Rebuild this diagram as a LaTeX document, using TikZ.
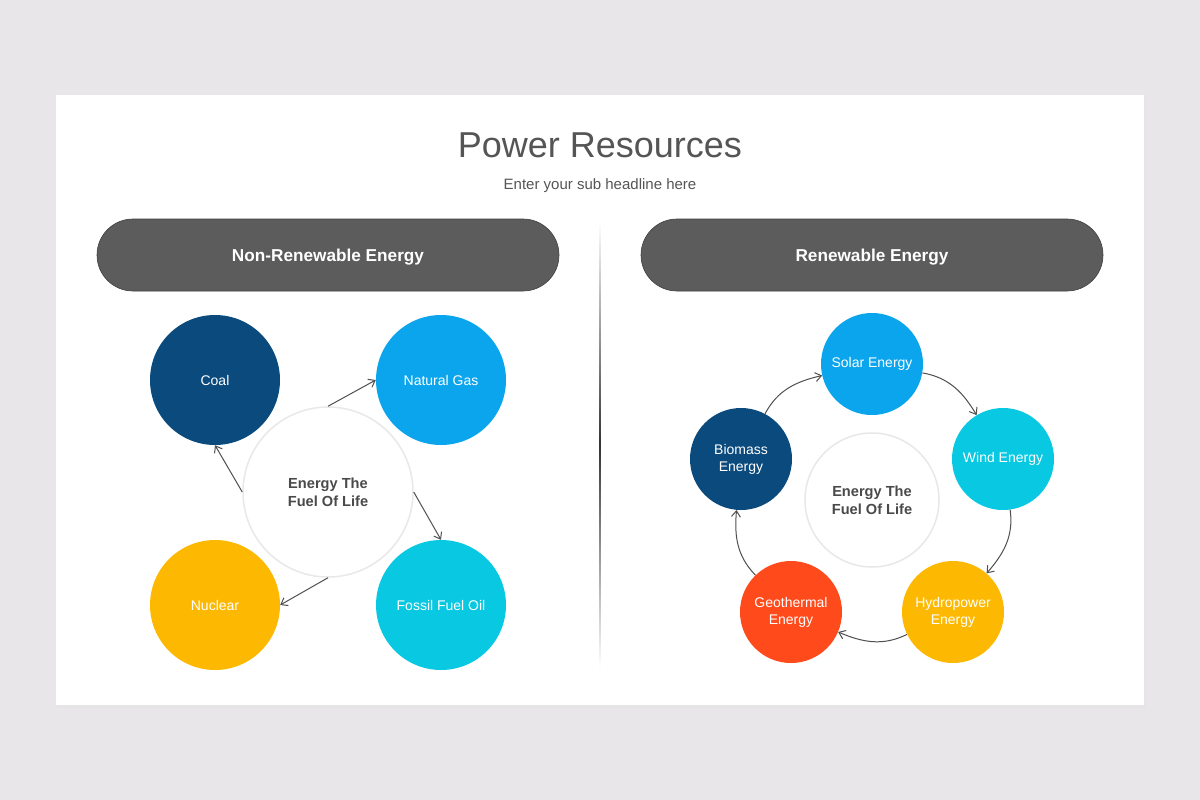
\documentclass[tikz,border=0pt]{standalone}
\usepackage{fontspec}
\setmainfont{Liberation Sans}
\usetikzlibrary{arrows.meta}
\definecolor{bgc}{HTML}{E8E6E8}
\definecolor{pill}{HTML}{5C5C5C}
\definecolor{titlec}{HTML}{555555}
\definecolor{ctext}{HTML}{4A4A4A}
\definecolor{navy}{HTML}{0B4A7C}
\definecolor{sky}{HTML}{0BA5EE}
\definecolor{cyan2}{HTML}{08C8E2}
\definecolor{amber}{HTML}{FDB902}
\definecolor{redor}{HTML}{FF4A1C}
\definecolor{arr}{HTML}{4F4F4F}
\tikzset{
  bubble/.style={circle, inner sep=0pt, text=white, align=center, font=\fontsize{14}{17}\selectfont},
  hub/.style={circle, inner sep=0pt, fill=white, draw=black!9, line width=1.5pt, text=ctext, align=center, font=\bfseries\fontsize{14.6}{18}\selectfont},
  pillbox/.style={rounded corners=36pt, fill=pill, draw=black!75, line width=0.6pt, minimum width=462pt, minimum height=72pt},
  pilltext/.style={text=white, font=\bfseries\fontsize{17.2}{21}\selectfont},
  link/.style={draw=arr, line width=1pt, -{Straight Barb[length=6pt,width=9pt]}},
}
\begin{document}
\begin{tikzpicture}[x=1pt,y=1pt]
\useasboundingbox (0,0) rectangle (1200,-800);
\fill[bgc] (0,0) rectangle (1200,-800);
% card shadow and card
\fill[black!10] (57,-97) rectangle (1146,-708);
\fill[white] (56,-95) rectangle (1144,-705);
% titles
\node[text=titlec, font=\fontsize{36}{43}\selectfont] (title) at (600,-145) {Power Resources};
\node[text=titlec, font=\fontsize{15}{18}\selectfont] (sub) at (600,-186) {Enter your sub headline here};
% headers
\node[pillbox] (hl) at (328,-255) {};
\node[pilltext] (hlt) at (328,-257) {Non-Renewable Energy};
\node[pillbox] (hr) at (872,-255) {};
\node[pilltext] (hrt) at (872,-257) {Renewable Energy};
% divider
\shade[top color=white, bottom color=white, middle color=black!80] (599.2,-222) rectangle (600.8,-668);
% left diagram
\node[hub, minimum size=170pt] (cl) at (328,-492) {Energy The\\Fuel Of Life};
\node[bubble, fill=navy, minimum size=130pt] (coal) at (215,-380) {Coal};
\node[bubble, fill=sky, minimum size=130pt] (gas) at (441,-380) {Natural Gas};
\node[bubble, fill=amber, minimum size=130pt] (nuc) at (215,-605) {Nuclear};
\node[bubble, fill=cyan2, minimum size=130pt] (oil) at (441,-605) {Fossil Fuel Oil};
\draw[link] (cl.north) -- (gas.west);
\draw[link] (cl.east) -- (oil.north);
\draw[link] (cl.south) -- (nuc.east);
\draw[link] (cl.west) -- (coal.south);
% right diagram
\node[hub, minimum size=134pt] (cr) at (872,-500) {Energy The\\Fuel Of Life};
\node[bubble, fill=sky, minimum size=102pt] (solar) at (872,-364) {Solar Energy};
\node[bubble, fill=cyan2, minimum size=102pt] (wind) at (1003,-459) {Wind Energy};
\node[bubble, fill=amber, minimum size=102pt] (hydro) at (953,-612) {Hydropower\\Energy};
\node[bubble, fill=redor, minimum size=102pt] (geo) at (791,-612) {Geothermal\\Energy};
\node[bubble, fill=navy, minimum size=102pt] (bio) at (741,-459) {Biomass\\Energy};
\draw[link] (bio) to[out=62, in=193] (solar);
\draw[link] (solar) to[out=-10, in=121] (wind);
\draw[link] (wind) to[out=-82, in=49] (hydro);
\draw[link] (hydro) to[out=206, in=-23] (geo);
\draw[link] (geo) to[out=134, in=-95] (bio);
\end{tikzpicture}
\end{document}
